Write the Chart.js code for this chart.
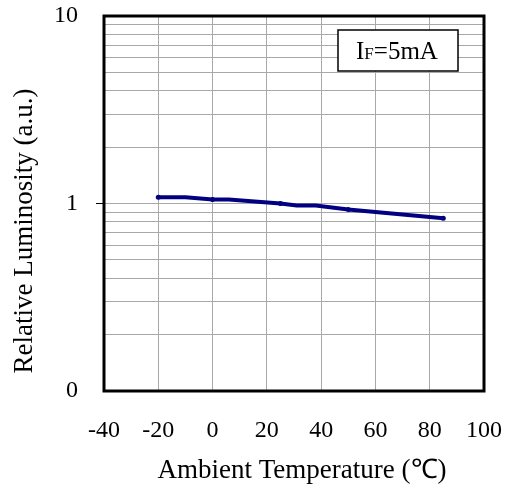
<!DOCTYPE html>
<html>
<head>
<meta charset="utf-8">
<script src="https://cdn.jsdelivr.net/npm/chart.js@4"></script>
<style>
  html, body { margin: 0; padding: 0; background: #fff; }
  #wrap { width: 510px; height: 491px; }
</style>
</head>
<body>
<div id="wrap"><canvas id="chart" width="510" height="491"></canvas></div>
<script>
// Data
const temps = [-20, -10, 0, 6, 25, 31, 38, 50, 85]
const luminosity = [1.08, 1.08, 1.05, 1.05, 1.0, 0.975, 0.975, 0.93, 0.835]
const markerTemps = [-20, 0, 25, 50, 85]

const xTicks = [-40, -20, 0, 20, 40, 60, 80, 100]
const yGridValues = [0.1, 0.2, 0.3, 0.4, 0.5, 0.6, 0.7, 0.8, 0.9,
  1, 2, 3, 4, 5, 6, 7, 8, 9, 10]
const yTickLabels = { 0.1: '0', 1: '1', 10: '10' }

const xTitle = 'Ambient Temperature (\u2103)'
const yTitle = 'Relative Luminosity (a.u.)'

const serif = '"Liberation Serif", "Times New Roman", serif'

// Frame, titles and the IF=5mA box
const extras = {
  id: 'extras',
  afterDraw(chart) {
    const { ctx, chartArea: a } = chart
    ctx.save()
    ctx.strokeStyle = '#000'
    ctx.lineWidth = 3
    ctx.strokeRect(a.left, a.top, a.right - a.left, a.bottom - a.top)

    // legend box
    const bx = a.right - 146, by = a.top + 14, bw = 120, bh = 41
    ctx.fillStyle = '#fff'
    ctx.fillRect(bx, by, bw, bh)
    ctx.lineWidth = 1.5
    ctx.strokeRect(bx, by, bw, bh)
    ctx.fillStyle = '#000'
    ctx.textBaseline = 'alphabetic'
    ctx.textAlign = 'left'
    let tx = bx + 18
    const ty = by + 29
    ctx.font = '25px ' + serif
    ctx.fillText('I', tx, ty)
    tx += ctx.measureText('I').width
    ctx.font = '17px ' + serif
    ctx.fillText('F', tx, ty)
    tx += ctx.measureText('F').width
    ctx.font = '25px ' + serif
    ctx.fillText('=5mA', tx, ty)

    // axis titles
    ctx.font = '27px ' + serif
    ctx.textAlign = 'center'
    ctx.textBaseline = 'middle'
    ctx.fillText(xTitle, 302, 471)
    ctx.translate(25, 231)
    ctx.rotate(-Math.PI / 2)
    ctx.fillText(yTitle, 0, 0)
    ctx.restore()
  }
}

new Chart(document.getElementById('chart'), {
  type: 'line',
  data: {
    datasets: [{
      data: temps.map((t, i) => ({ x: t, y: luminosity[i] })),
      borderColor: '#000080',
      backgroundColor: '#000080',
      borderWidth: 4,
      tension: 0,
      pointRadius: ctx => markerTemps.includes(temps[ctx.dataIndex]) ? 2.5 : 0,
      pointBorderWidth: 0
    }]
  },
  options: {
    responsive: false,
    animation: false,
    layout: { padding: { left: 0, right: 26, top: 16, bottom: 0 } },
    plugins: { legend: { display: false }, tooltip: { enabled: false } },
    scales: {
      x: {
        type: 'linear',
        min: -40,
        max: 100,
        afterBuildTicks: s => { s.ticks = xTicks.map(v => ({ value: v })) },
        afterFit: s => { s.height = 100; s.paddingLeft = 0; s.paddingRight = 0 },
        grid: { color: '#a8a8a8', lineWidth: 1, drawTicks: false },
        border: { display: false },
        ticks: {
          color: '#000',
          padding: 25,
          maxRotation: 0,
          font: { family: serif, size: 24 }
        }
      },
      y: {
        type: 'logarithmic',
        min: 0.1,
        max: 10,
        afterBuildTicks: s => { s.ticks = yGridValues.map(v => ({ value: v })) },
        afterFit: s => { s.width = 104; s.paddingTop = 0; s.paddingBottom = 0 },
        grid: {
          color: '#a8a8a8',
          lineWidth: 1,
          tickLength: 8,
          tickColor: c => (c.tick && c.tick.value === 1) ? '#000' : 'rgba(0,0,0,0)'
        },
        border: { display: false },
        ticks: {
          color: '#000',
          padding: 18,
          autoSkip: false,
          font: { family: serif, size: 24 },
          callback: v => yTickLabels[v] !== undefined ? yTickLabels[v] : ''
        }
      }
    }
  },
  plugins: [extras]
})
</script>
</body>
</html>
